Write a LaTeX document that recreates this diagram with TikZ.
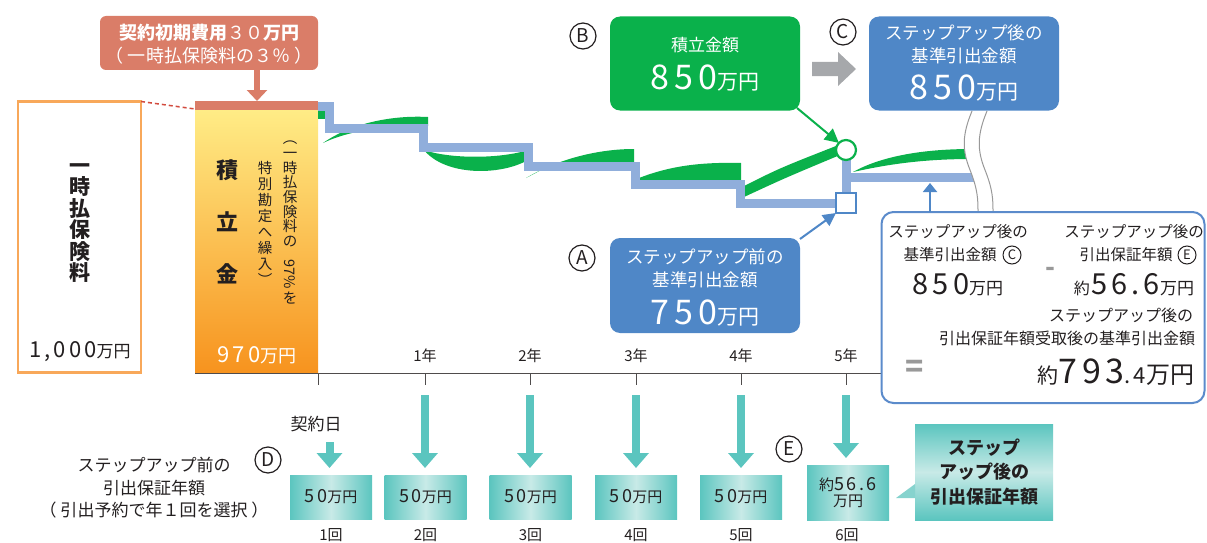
\documentclass[tikz,border=0pt]{standalone}
\usepackage{fontspec}
\setmainfont{Noto Sans CJK JP}
\newfontfamily\spc[LetterSpace=14]{Noto Sans CJK JP}
\usetikzlibrary{arrows.meta}
\definecolor{salmon}{HTML}{DA7D68}
\definecolor{grn}{HTML}{0AB14B}
\definecolor{bbox}{HTML}{4F87C7}
\definecolor{rbox}{HTML}{5B8BCB}
\definecolor{lblue}{HTML}{90AEDB}
\definecolor{teal1}{HTML}{5BC5BF}
\definecolor{teal2}{HTML}{C8EAE7}
\definecolor{teal3}{HTML}{86D3CE}
\definecolor{garrow}{HTML}{A6A8AB}
\definecolor{orl}{HTML}{F8A85A}
\definecolor{ytop}{HTML}{FFEC86}
\definecolor{ybot}{HTML}{F7931E}
\definecolor{ink}{HTML}{231F20}
\definecolor{dotred}{HTML}{D24B3E}
\newcommand\fsz[2]{\fontsize{#1}{#2}\selectfont}
\begin{document}
\begin{tikzpicture}[x=1pt,y=-1pt,
  every node/.style={inner sep=0pt,outer sep=0pt,text=ink},
  circ/.style={circle,draw=ink,line width=1.2pt,minimum size=26pt,fill=white,font=\fsz{19}{19}},
  smallcirc/.style={circle,draw=ink,line width=1pt,minimum size=18pt,font=\fsz{13}{13}},
  stair/.style={draw=lblue,line width=9pt},
  tbox/.style={minimum width=82pt,minimum height=44pt,left color=teal1,right color=teal1,middle color=teal2},
  tarrow/.style={draw=teal1,line width=8pt,-{Triangle[width=25pt,length=15pt]}},
  darkbox/.style={rounded corners=10pt,minimum width=190pt,minimum height=94pt},
  wt/.style={text=white},
]
\useasboundingbox (0,0) rectangle (1207,543);

% ---------- axis ----------
\draw[ink!80,line width=1pt] (195,373) -- (881,373);
\foreach \xx in {318,425,530,636,741,846}{\draw[ink!80,line width=1pt] (\xx,373) -- (\xx,385);}
\foreach \xx/\yy in {425/1,530/2,636/3,741/4,846/5}{\node[font=\fsz{15}{15}] (yr\yy) at (\xx,356) {\yy 年};}

% ---------- lump sum box ----------
\node[draw=orl,line width=2.5pt,fill=white,minimum width=123pt,minimum height=271pt] (lump) at (79.5,237) {};
\node[font=\bfseries\fsz{21}{21.5},align=center] (lumpt) at (80,223) {一\\時\\払\\保\\険\\料};
\node (lumpv) at (80,352) {{\spc\fsz{22}{22}1,000}{\fsz{17}{17}万円}};
\draw[dotred,line width=1.5pt,dash pattern=on 4pt off 3pt] (lump.north east) -- (195,109);

% ---------- reserve box ----------
\node[top color=ytop,bottom color=ybot,minimum width=123pt,minimum height=263pt] (res) at (256.5,241.5) {};
\node[fill=salmon,minimum width=123pt,minimum height=9pt] (fee) at (256.5,105.5) {};
\node[font=\bfseries\fsz{22}{52},align=center] (rest) at (227,222) {積\\立\\金};
\node[font=\fsz{14.5}{14.7},align=center] (resp1) at (290,194) {︵\\一\\時\\払\\保\\険\\料\\の};
\node[font=\fsz{14.5}{14.5}] (resp1b) at (290,274) {\rotatebox{-90}{97\%}};
\node[font=\fsz{14.5}{14.5}] (resp1c) at (290,298) {を};
\node[font=\fsz{14.5}{15.9},align=center] (resp2) at (265,223.5) {特\\別\\勘\\定\\へ\\繰\\入\\︶};
\node[wt] (resv) at (257,355) {{\spc\fsz{22}{22}970}{\fsz{18}{18}万円}};
\draw[ink!80,line width=1pt] (195,373) -- (318,373);

% ---------- cost callout ----------
\node[fill=salmon,rounded corners=6pt,minimum width=218pt,minimum height=54pt] (cost) at (209,43) {};
\node[wt,font=\fsz{18}{18}] (cost1) at (209,33) {{\bfseries 契約初期費用}３０{\bfseries 万円}};
\node[wt,font=\fsz{18}{18}] (cost2) at (209,56) {（ 一時払保険料の３％ ）};
\draw[salmon,line width=6pt,-{Triangle[width=20pt,length=11pt]}] (257,70) -- (fee.north -| 257,0);

% ---------- green account value ----------
\fill[grn] (318,110) rectangle (326,119);
\fill[grn] (323,143) .. controls (350,124) and (390,115) .. (428,117) -- (428,126) .. controls (390,125) and (350,130) .. (323,143) -- cycle;
\fill[grn] (424,150) .. controls (445,176) and (500,176) .. (528,160) -- (528,150) .. controls (500,159) and (450,159) .. (424,150) -- cycle;
\fill[grn] (526,178) .. controls (560,158) and (600,149) .. (634,149) -- (634,162) -- (560,162) .. controls (545,168) .. (526,178) -- cycle;
\fill[grn] (639,178) .. controls (670,166) and (700,162) .. (741,163) -- (741,181) -- (639,181) -- cycle;
\fill[grn] (744,186) .. controls (780,168) .. (836,146) -- (840,155) .. controls (785,178) .. (744,197) -- cycle;
\fill[grn] (853,172) .. controls (880,157) and (920,149) .. (972,149) -- (972,159) .. controls (920,159) and (885,165) .. (853,172) -- cycle;

% ---------- staircase (base withdrawal amount) ----------
\draw[stair] (318,106.5) -- (329,106.5) -- (329,128) -- (423,128) -- (423,147) -- (528,147) -- (528,166) -- (635,166) -- (635,184) -- (740,184) -- (740,203) -- (838,203);
\draw[stair] (846,160) -- (846,194);
\draw[stair] (846,177) -- (975,177);

% ---------- break mark ----------
\path[fill=white] (972,111) .. controls (962,135) and (962,150) .. (970,170) .. controls (978,190) and (978,200) .. (978,213)
  -- (993,213) .. controls (993,200) and (993,190) .. (985,170) .. controls (977,150) and (977,135) .. (987,111) -- cycle;
\draw[black!40,line width=1pt] (972,111) .. controls (962,135) and (962,150) .. (970,170) .. controls (978,190) and (978,200) .. (978,213);
\draw[black!40,line width=1pt] (987,111) .. controls (977,135) and (977,150) .. (985,170) .. controls (993,190) and (993,200) .. (993,213);

% ---------- markers ----------
\node[circle,draw=grn,fill=white,line width=2.2pt,minimum size=20pt] (cmark) at (846,150) {};
\node[draw=bbox,fill=white,line width=2pt,minimum size=20pt] (smark) at (846,203) {};

% ---------- B box ----------
\node[darkbox,fill=grn] (bb) at (705,63.5) {};
\node[wt,font=\fsz{17}{17}] (bb1) at (705,45) {積立金額};
\node[wt] (bb2) at (705,78) {{\spc\fsz{34}{34}850}{\fsz{21}{21}万円}};
\node[circ] (cB) at (583,36) {B};
\draw[grn,line width=2pt,-{Triangle[width=14pt,length=14pt]}] (797,108) -- (cmark.north west);

% ---------- C box ----------
\node[darkbox,fill=bbox] (cb) at (964,63.5) {};
\node[wt,font=\fsz{17.5}{17.5}] (cb1) at (964,33) {ステップアップ後の};
\node[wt,font=\fsz{17.5}{17.5}] (cb2) at (964,56) {基準引出金額};
\node[wt] (cb3) at (964,88) {{\spc\fsz{34}{34}850}{\fsz{21}{21}万円}};
\node[circ] (cC) at (843,32) {C};
\fill[garrow] (812,62) -- (838,62) -- (838,52) -- (856,69) -- (838,86) -- (838,76) -- (812,76) -- cycle;

% ---------- A box ----------
\node[darkbox,fill=bbox,minimum height=95pt] (ab) at (705,285.5) {};
\node[wt,font=\fsz{17.5}{17.5}] (ab1) at (705,257) {ステップアップ前の};
\node[wt,font=\fsz{17.5}{17.5}] (ab2) at (705,280) {基準引出金額};
\node[wt] (ab3) at (705,313) {{\spc\fsz{34}{34}750}{\fsz{21}{21}万円}};
\node[circ] (cA) at (582,258) {A};
\draw[bbox,line width=2pt,-{Triangle[width=13pt,length=13pt]}] (800,239) -- (smark.south west);

% ---------- right formula box ----------
\node[draw=rbox,line width=2pt,rounded corners=12pt,fill=white,minimum width=323pt,minimum height=191pt] (rb) at (1043,307.5) {};
\draw[bbox,line width=2pt,-{Triangle[width=14pt,length=9pt]}] (rb.north -| 930,0) -- (930,183);
\node[font=\fsz{15.5}{15.5}] (rb1) at (958,232) {ステップアップ後の};
\node[font=\fsz{15.5}{15.5}] (rb2) at (950,255) {基準引出金額};
\node[smallcirc] (icC) at (1012,255) {C};
\node (rb3) at (958,285) {{\spc\fsz{29}{29}850}{\fsz{17}{17}万円}};
\node[text=black!40,font=\bfseries\fsz{26}{26}] (minus) at (1050,272) {-};
\node[font=\fsz{15.5}{15.5}] (rb4) at (1134,232) {ステップアップ後の};
\node[font=\fsz{15.5}{15.5}] (rb5) at (1126,255) {引出保証年額};
\node[smallcirc] (icE) at (1187,255) {E};
\node (rb6) at (1134,285) {{\fsz{16}{16}約}\,{\spc\fsz{29}{29}56.6}{\fsz{17}{17}万円}};
\node[font=\fsz{16}{16},anchor=east] (rb7) at (1193,315) {ステップアップ後の};
\node[font=\fsz{16}{16},anchor=east] (rb8) at (1195,338) {引出保証年額受取後の基準引出金額};
\node[text=black!40,font=\bfseries\fsz{30}{30}] (eq) at (915,369) {=};
\node[anchor=base east] (rb9) at (1194,383) {{\fsz{21}{21}約}{\spc\fsz{34}{34}793}{\spc\fsz{22}{22}.4}{\fsz{24}{24}万円}};

% ---------- bottom: withdrawals ----------
\node[font=\fsz{17}{17}] (lft1) at (154,465) {ステップアップ前の};
\node[font=\fsz{17}{17}] (lft2) at (154,488) {引出保証年額};
\node[font=\fsz{17}{17}] (lft3) at (154,510) {（ 引出予約で年１回を選択 ）};
\node[circ] (cD) at (268,460) {D};
\node[circ] (cE) at (789,449) {E};
\node[font=\fsz{17}{17}] (kday) at (316,424) {契約日};

\foreach \nn/\xx in {1/331,2/425.5,3/530.5,4/636,5/741}{
  \node[tbox] (d\nn) at (\xx,497) {{\spc\fsz{18}{18}50}{\fsz{15}{15}万円}};
  \node[font=\fsz{15}{15}] (n\nn) at (\xx,535) {\nn 回};
}
\node[tbox,minimum height=55pt,align=center] (d6) at (848,492.5) {{\fsz{15}{15}約}{\spc\fsz{18}{18}56.6}\\[2pt]{\fsz{15}{15}万円}};
\node[font=\fsz{15}{15}] (n6) at (847,535) {6回};

\draw[tarrow] (329.5,442) -- (329.5,468);
\foreach \nn/\xx in {2/425,3/530,4/636,5/741}{\draw[tarrow] (\xx,395) -- (\xx,468);}
\draw[tarrow] (846,395) -- (846,458);

% ---------- step-up callout ----------
\node[top color=teal1,bottom color=teal1,middle color=teal2,minimum width=138pt,minimum height=96pt] (sc) at (984,472) {};
\fill[teal3] (915,484) -- (896,498) -- (915,498) -- cycle;
\node[font=\bfseries\fsz{18}{24.5},align=center] (sct) at (984,472) {ステップ\\アップ後の\\引出保証年額};
\end{tikzpicture}
\end{document}
